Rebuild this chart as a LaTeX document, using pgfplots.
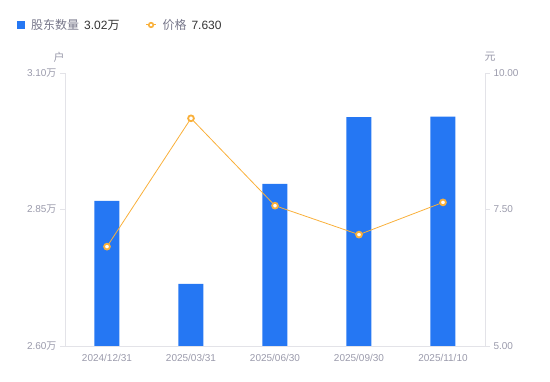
\documentclass[border=0pt]{standalone}
\usepackage{pgfplots}
\pgfplotsset{compat=1.18}
\usepackage{fontspec}
\setmainfont{Liberation Sans}
\newfontfamily\cjk{Noto Sans CJK SC}
\definecolor{barblue}{HTML}{2577F3}
\definecolor{lineor}{HTML}{F9B03A}
\definecolor{axgray}{HTML}{E3E3E8}
\definecolor{tickgray}{HTML}{9A9AAB}
\definecolor{leggray}{HTML}{77778A}
\definecolor{legdark}{HTML}{333333}
\begin{document}
\begin{tikzpicture}
\useasboundingbox (0,0) rectangle (550pt,381pt);
\begin{axis}[
  at={(65pt,35pt)}, anchor=south west,
  scale only axis, width=420pt, height=273pt,
  xmin=-0.5, xmax=4.5, ymin=2.6, ymax=3.1,
  axis x line*=bottom, axis y line*=left,
  axis line style={axgray, line width=0.8pt, -},
  xtick={0,...,4},
  xticklabels={2024/12/31,2025/03/31,2025/06/30,2025/09/30,2025/11/10},
  x tick style={draw=none},
  ytick={2.6,2.85,3.1},
  yticklabels={2.60{\cjk 万},2.85{\cjk 万},3.10{\cjk 万}},
  y tick style={axgray, line width=0.8pt},
  tick align=outside, major tick length=5pt,
  ticklabel style={font=\fontsize{10}{12}\selectfont, text=tickgray},
  legend style={draw=none, fill=none, at={(-0.1143,1.1795)}, anchor=west,
    xshift=-3pt, yshift=-1pt,
    font=\fontsize{12}{14}\selectfont,
    /tikz/every even column/.append style={column sep=24pt}},
  legend columns=2,
  legend cell align=left,
]
\addplot[ybar, bar width=25pt, fill=barblue, draw=none,
  legend image code/.code={\fill[barblue] (0pt,-4pt) rectangle (8pt,4pt);}]
  coordinates {(0,2.866)(1,2.714)(2,2.897)(3,3.019)(4,3.020)};
\addlegendentry{\hspace{4pt}{\cjk\color{leggray}股东数量}\hspace{5pt}{\color{legdark}3.02{\cjk 万}}}
\addlegendimage{legend image code/.code={
  \draw[lineor, line width=1pt] (0pt,0pt) -- (10pt,0pt);
  \draw[lineor, line width=1.6pt, fill=white] (5pt,0pt) circle (2.3pt);}}
\addlegendentry{\hspace{4pt}{\cjk\color{leggray}价格}\hspace{5pt}{\color{legdark}7.630}}
\end{axis}
\begin{axis}[
  at={(65pt,35pt)}, anchor=south west,
  scale only axis, width=420pt, height=273pt,
  xmin=-0.5, xmax=4.5, ymin=5, ymax=10,
  axis x line=none, axis y line*=right,
  axis line style={axgray, line width=0.8pt, -},
  ytick={5,7.5,10}, yticklabels={5.00,7.50,10.00},
  y tick style={axgray, line width=0.8pt},
  tick align=outside, major tick length=5pt,
  ticklabel style={font=\fontsize{10}{12}\selectfont, text=tickgray},
  clip=false,
]
\addplot[lineor, line width=0.8pt, mark=*, mark size=2.9pt,
  mark options={fill=white, draw=lineor, line width=1.8pt}]
  coordinates {(0,6.82)(1,9.17)(2,7.57)(3,7.04)(4,7.63)};
\end{axis}
\node[font=\cjk\fontsize{11}{13}\selectfont, text=tickgray] at (59pt,324pt) {户};
\node[font=\cjk\fontsize{11}{13}\selectfont, text=tickgray] at (490pt,324pt) {元};
\end{tikzpicture}
\end{document}
